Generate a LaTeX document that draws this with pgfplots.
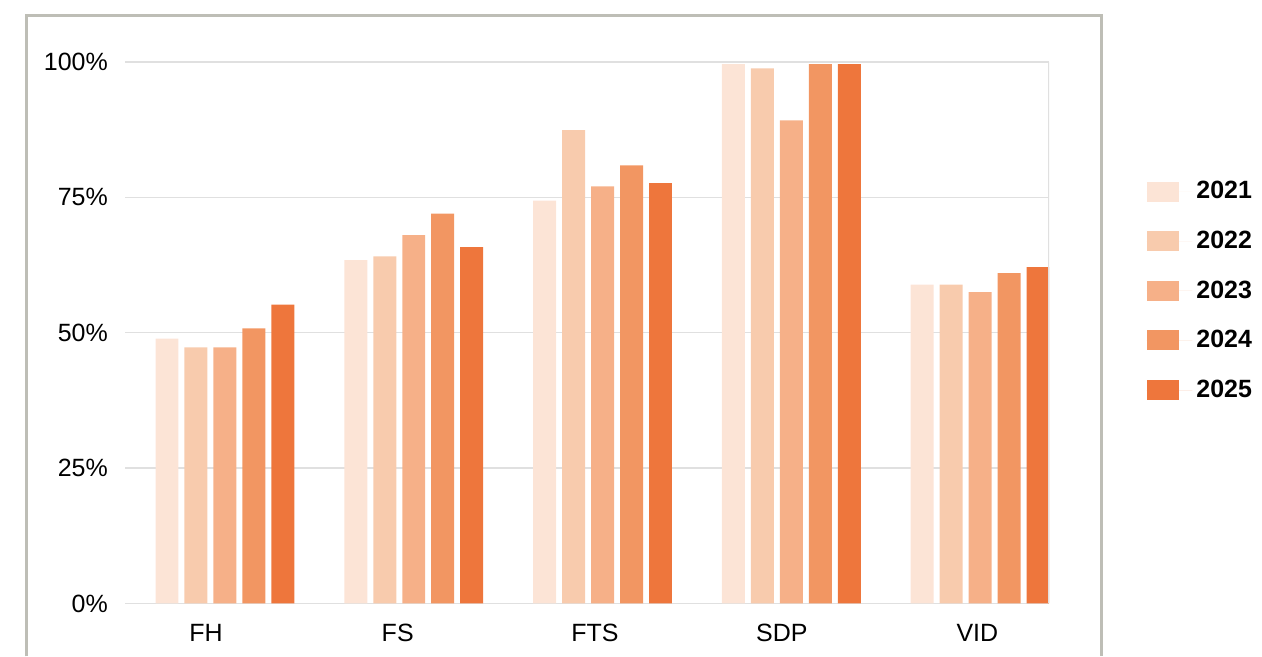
\documentclass[border=0pt]{standalone}
\usepackage{pgfplots}
\pgfplotsset{compat=1.18}
\usepackage{fontspec}
\setmainfont{Liberation Sans}
\definecolor{c21}{RGB}{252,228,214}
\definecolor{c22}{RGB}{248,203,173}
\definecolor{c23}{RGB}{246,176,136}
\definecolor{c24}{RGB}{242,150,98}
\definecolor{c25}{RGB}{238,118,60}
\definecolor{gridc}{RGB}{224,224,224}
\definecolor{framec}{RGB}{190,190,182}
\begin{document}
\begin{tikzpicture}
\begin{axis}[
  name=ax,
  at={(0,0)}, anchor=south west,
  width=462.5pt, height=271pt, scale only axis,
  xmin=-0.53, xmax=4.365,
  ymin=0, ymax=100,
  ytick={0,25,50,75,100},
  yticklabel={\pgfmathprintnumber{\tick}\%},
  /pgf/number format/assume math mode=true,
  xtick={-0.1,0.915,1.96,2.95,3.985},
  xticklabels={FH,FS,FTS,SDP,VID},
  tick style={draw=none},
  axis line style={draw=none},
  ymajorgrids, grid style={gridc, line width=0.75pt},
  ticklabel style={font=\fontsize{12.5}{15}\selectfont},
  yticklabel style={xshift=-5pt},
  xticklabel style={yshift=-2.5pt},
  ybar, bar width=11.5pt,
  legend style={at={(1.0985,0.795)}, anchor=north west, draw=none, fill=none,
    font=\bfseries\fontsize{12.5}{15}\selectfont, row sep=10.6pt,
    legend cell align=left},
  legend image code/.code={\fill[#1] (0pt,-5pt) rectangle (16.5pt,5pt); \path (0pt,0pt) -- (23pt,0pt);},
]
\addplot[fill=c21, draw=none, bar shift=-29pt] coordinates {(0,48.9) (1,63.4) (2,74.4) (3,99.6) (4,58.9)};
\addplot[fill=c22, draw=none, bar shift=-14.5pt] coordinates {(0,47.3) (1,64.1) (2,87.4) (3,98.8) (4,58.9)};
\addplot[fill=c23, draw=none, bar shift=0pt] coordinates {(0,47.3) (1,68.0) (2,77.0) (3,89.2) (4,57.5)};
\addplot[fill=c24, draw=none, bar shift=14.5pt] coordinates {(0,50.8) (1,72.0) (2,80.9) (3,99.6) (4,61.0)};
\addplot[fill=c25, draw=none, bar shift=29pt] coordinates {(0,55.2) (1,65.8) (2,77.6) (3,99.6) (4,62.1)};
\legend{2021,2022,2023,2024,2025}
\draw[gridc, line width=0.75pt] (rel axis cs:1,0) -- (rel axis cs:1,1);
\end{axis}
\path[use as bounding box] ([shift={(-62.5pt,-26.5pt)}]ax.south west) rectangle ([shift={(568.5pt,302pt)}]ax.south west);
\draw[framec, line width=1.5pt] ([shift={(-49pt,-26.5pt)}]ax.south west) -- ([shift={(-49pt,294pt)}]ax.south west) -- ([shift={(488.5pt,294pt)}]ax.south west) -- ([shift={(488.5pt,-26.5pt)}]ax.south west);
\end{tikzpicture}
\end{document}
